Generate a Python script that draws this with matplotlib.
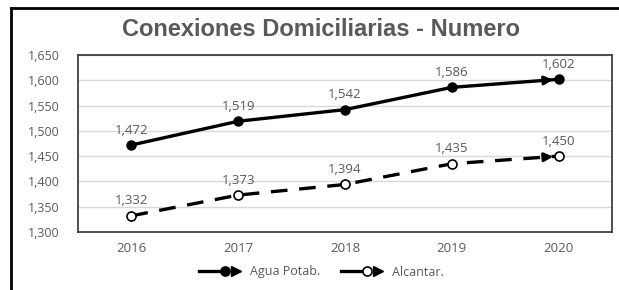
import matplotlib
matplotlib.use('Agg')
import matplotlib.pyplot as plt
from matplotlib.legend_handler import HandlerLine2D
from matplotlib.lines import Line2D

# Data
years = ['2016', '2017', '2018', '2019', '2020']
agua_potab = [1472, 1519, 1542, 1586, 1602]
alcantar = [1332, 1373, 1394, 1435, 1450]
series_names = ['Agua Potab.', 'Alcantar.']
title = 'Conexiones Domiciliarias - Numero'

GRAY = '#595959'
plt.rcParams['font.family'] = ['Open Sans', 'DejaVu Sans']


class ArrowLineHandler(HandlerLine2D):
    """Legend handle: line, marker, then an arrow head"""

    def create_artists(self, legend, orig_handle, xdescent, ydescent,
                       width, height, fontsize, trans):
        y = (height - ydescent) / 2.0
        x0 = -xdescent
        x1 = width - xdescent
        xm = x0 + 0.59 * width
        line = Line2D([x0, xm], [y, y], color='black',
                      linewidth=orig_handle.get_linewidth(), linestyle='-')
        head = Line2D([x1 - 5], [y], marker='>', markersize=7.5, color='black',
                      linestyle='')
        marker = Line2D([xm], [y], marker='o', markersize=orig_handle.get_markersize(),
                        markerfacecolor=orig_handle.get_markerfacecolor(),
                        markeredgecolor='black', markeredgewidth=1.2, linestyle='')
        for a in (line, head, marker):
            a.set_transform(trans)
        return [line, head, marker]


fig = plt.figure(figsize=(6.19, 2.90), dpi=100)
ax = fig.add_axes([78 / 619, 58 / 290, 534 / 619, 177 / 290])

x = list(range(len(years)))
l1, = ax.plot(x, agua_potab, color='black', linewidth=2.4, marker='o', markersize=6.5,
              markerfacecolor='black', markeredgecolor='black', label=series_names[0], zorder=3)
l2, = ax.plot(x, alcantar, color='black', linewidth=2.4, marker='o', markersize=6.5,
              markerfacecolor='white', markeredgecolor='black', markeredgewidth=1.2,
              dashes=(5, 3.5), label=series_names[1], zorder=3)

# End arrows pointing at the last point
for vals in (agua_potab, alcantar):
    xs = x[-1] - 0.14
    ys = vals[-1] - 0.14 * (vals[-1] - vals[-2])
    ax.annotate('', xy=(x[-1], vals[-1]), xytext=(xs, ys),
                arrowprops=dict(arrowstyle='-|>', color='black', lw=2,
                                mutation_scale=13, shrinkA=0, shrinkB=4),
                zorder=4)

# Data labels
for vals in (agua_potab, alcantar):
    for xi, v in zip(x, vals):
        ax.annotate(f'{v:,}', (xi, v), textcoords='offset points', xytext=(0, 6),
                    ha='center', va='bottom', fontsize=9.5, color=GRAY)

ax.set_xlim(-0.5, len(years) - 0.5)
ax.set_ylim(1300, 1650)
ax.set_yticks(range(1300, 1651, 50))
ax.set_yticklabels([f'{v:,}' for v in range(1300, 1651, 50)])
ax.set_xticks(x)
ax.set_xticklabels(years)
ax.tick_params(axis='both', length=0, labelsize=9, labelcolor=GRAY)
ax.tick_params(axis='x', labelsize=9.5, pad=7)
ax.tick_params(axis='y', pad=13)
ax.yaxis.grid(True, color='#d9d9d9', linewidth=1)
ax.set_axisbelow(True)
for s in ax.spines.values():
    s.set_color('#404040')
    s.set_linewidth(1.3)

fig.text(321 / 619, 1 - 30 / 290, title, ha='center', va='center',
         fontsize=17, fontweight='bold', color=GRAY, family=['Liberation Sans', 'DejaVu Sans'])

fig.legend(handles=[l1, l2], loc='center', bbox_to_anchor=(0.519, 18 / 290), ncol=2,
           frameon=False, fontsize=9, labelcolor=GRAY, handlelength=3.5,
           columnspacing=1.7, handletextpad=0.55,
           handler_map={Line2D: ArrowLineHandler()})

# Outer chart frame (left and top edges)
fig.add_artist(Line2D([11 / 619, 11 / 619], [0, 1 - 8 / 290], transform=fig.transFigure,
                      color='black', linewidth=2))
fig.add_artist(Line2D([11 / 619, 1], [1 - 8 / 290, 1 - 8 / 290], transform=fig.transFigure,
                      color='black', linewidth=2))

fig.savefig('out.png', dpi=100)
